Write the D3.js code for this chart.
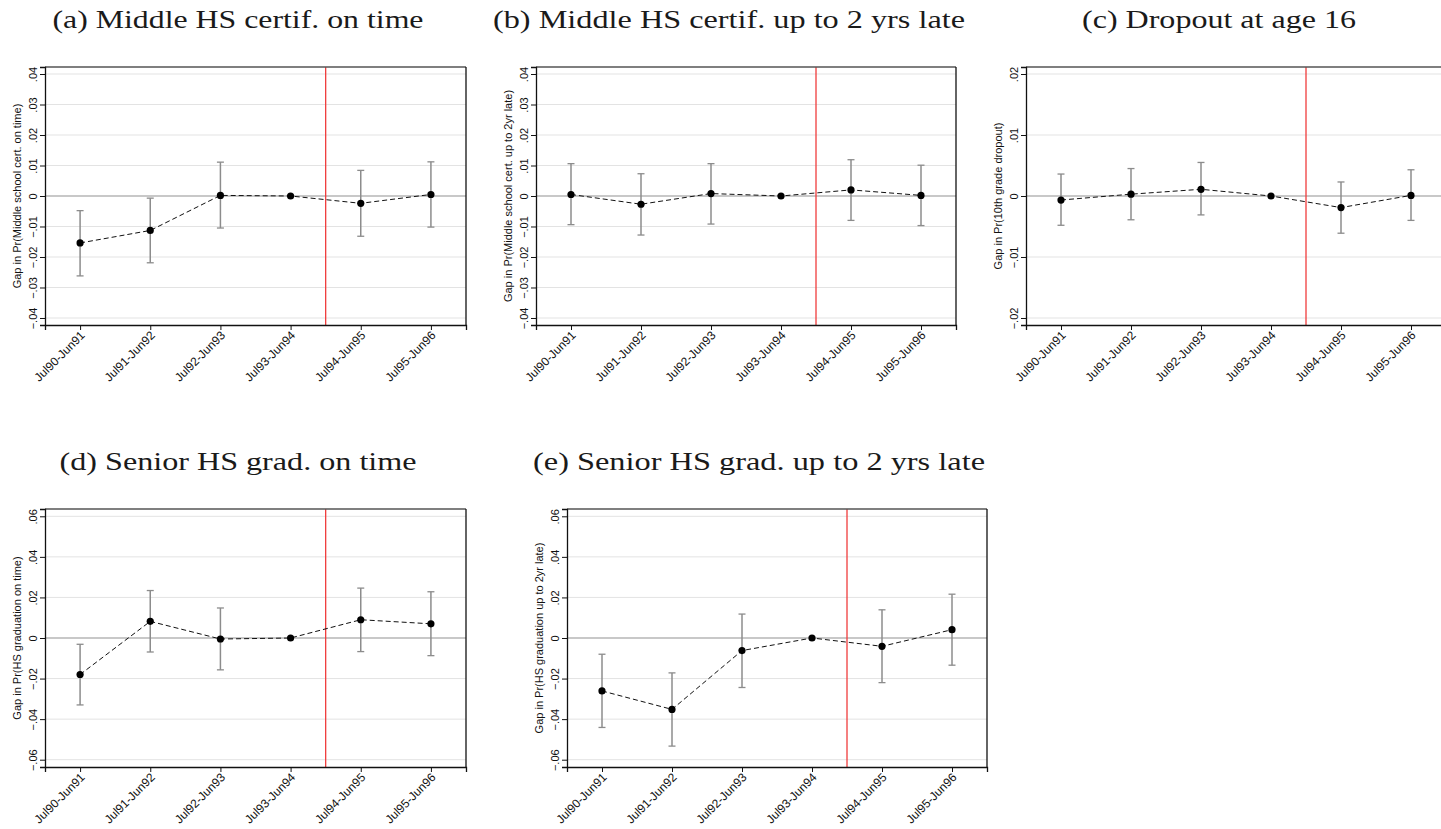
<!DOCTYPE html>
<html>
<head>
<meta charset="utf-8">
<script src="https://cdn.jsdelivr.net/npm/d3@7"></script>
<style>
  body { margin: 0; background: #fff; overflow: hidden; }
  svg { display: block; }
  .title { font-family: "Liberation Serif", "DejaVu Serif", serif; font-size: 26px; fill: #1a1a1a; }
  .tick text, .ylab { font-family: "Liberation Sans", Arial, sans-serif; font-size: 11px; fill: #111; }
  .xax .tick text { font-size: 12px; }
</style>
</head>
<body>
<div id="chart"></div>
<script>
//-------------------SET-UP, DATA, & VARIABLES--------------------------
var width = 1441;
var height = 829;

// Cohort periods on the x axis
var periods = ["Jul90-Jun91", "Jul91-Jun92", "Jul92-Jun93", "Jul93-Jun94", "Jul94-Jun95", "Jul95-Jun96"];

// (a) Middle HS certif. on time
var coefA = [-0.0154, -0.0113, 0.0002, 0, -0.0024, 0.0005];
var loA   = [-0.0262, -0.0219, -0.0105, 0, -0.0132, -0.0102];
var hiA   = [-0.0048, -0.0007, 0.0111, 0, 0.0084, 0.0112];

// (b) Middle HS certif. up to 2 yrs late
var coefB = [0.0005, -0.0027, 0.0008, 0, 0.0020, 0.0002];
var loB   = [-0.0094, -0.0128, -0.0092, 0, -0.0080, -0.0097];
var hiB   = [0.0106, 0.0073, 0.0106, 0, 0.0119, 0.0101];

// (c) Dropout at age 16
var coefC = [-0.00066, 0.0003, 0.0011, 0, -0.0019, 0.0001];
var loC   = [-0.0048, -0.0039, -0.0031, 0, -0.0061, -0.0040];
var hiC   = [0.0036, 0.0045, 0.0055, 0, 0.0023, 0.0043];

// (d) Senior HS grad. on time
var coefD = [-0.0180, 0.0082, -0.0005, 0, 0.0090, 0.0070];
var loD   = [-0.0330, -0.0069, -0.0157, 0, -0.0067, -0.0087];
var hiD   = [-0.0031, 0.0234, 0.0148, 0, 0.0246, 0.0228];

// (e) Senior HS grad. up to 2 yrs late
var coefE = [-0.0261, -0.0352, -0.0062, 0, -0.0041, 0.0041];
var loE   = [-0.0441, -0.0533, -0.0244, 0, -0.0220, -0.0134];
var hiE   = [-0.0080, -0.0172, 0.0118, 0, 0.0139, 0.0216];

// Tick values
var ticksSmall = [-0.04, -0.03, -0.02, -0.01, 0, 0.01, 0.02, 0.03, 0.04];
var ticksDrop  = [-0.02, -0.01, 0, 0.01, 0.02];
var ticksGrad  = [-0.06, -0.04, -0.02, 0, 0.02, 0.04, 0.06];

var titles = ["(a) Middle HS certif. on time", "(b) Middle HS certif. up to 2 yrs late",
              "(c) Dropout at age 16", "(d) Senior HS grad. on time", "(e) Senior HS grad. up to 2 yrs late"];
var yLabels = ["Gap in Pr(Middle school cert. on time)", "Gap in Pr(Middle school cert. up to 2yr late)",
               "Gap in Pr(10th grade dropout)", "Gap in Pr(HS graduation on time)",
               "Gap in Pr(HS graduation up to 2yr late)"];

// Panel layout (plot box in pixels, title centre + width) + what goes in each
var panels = [
    {coef: coefA, lo: loA, hi: hiA, ticks: ticksSmall, ymax: 0.0423,  x0: 45,   y0: 67,  x1: 466,  y1: 325, tx: 238, ty: 28,  tw: 371},
    {coef: coefB, lo: loB, hi: hiB, ticks: ticksSmall, ymax: 0.0423,  x0: 536,  y0: 67,  x1: 956,  y1: 325, tx: 729, ty: 28,  tw: 472},
    {coef: coefC, lo: loC, hi: hiC, ticks: ticksDrop,  ymax: 0.02115, x0: 1026, y0: 67,  x1: 1446, y1: 325, tx: 1219, ty: 28, tw: 274},
    {coef: coefD, lo: loD, hi: hiD, ticks: ticksGrad,  ymax: 0.0636,  x0: 45,   y0: 509, x1: 466,  y1: 767, tx: 238, ty: 470, tw: 357},
    {coef: coefE, lo: loE, hi: hiE, ticks: ticksGrad,  ymax: 0.0636,  x0: 567,  y0: 509, x1: 987,  y1: 767, tx: 759, ty: 470, tw: 452}
];

var svg = d3.select("#chart")
    .append("svg")
    .attr("width", width)
    .attr("height", height);

function fmt(v) {
    // Stata style: .04, -.02, 0
    if (Math.abs(v) < 1e-9) return "0";
    var s = d3.format(".2f")(v);
    return s.replace("0.", ".");
}

//--------------------DRAW EACH PANEL---------------------------
panels.forEach(function(p, k) {
    var g = svg.append("g");

    var xScale = d3.scaleLinear().domain([-0.5, 5.5]).range([p.x0, p.x1]);
    var yScale = d3.scaleLinear().domain([-p.ymax, p.ymax]).range([p.y1, p.y0]);

    // title (stretched a bit, the original is in a wide LaTeX serif)
    g.append("text")
        .attr("class", "title")
        .attr("x", p.tx - p.tw / 2)
        .attr("y", p.ty)
        .attr("textLength", p.tw)
        .attr("lengthAdjust", "spacingAndGlyphs")
        .text(titles[k]);

    // gridlines
    g.selectAll(".grid")
        .data(p.ticks.filter(function(t) { return t !== 0; }))
        .enter().append("line")
        .attr("x1", p.x0).attr("x2", p.x1)
        .attr("y1", function(d) { return yScale(d); })
        .attr("y2", function(d) { return yScale(d); })
        .attr("stroke", "#e3e3e3")
        .attr("stroke-width", 1);

    // zero line
    g.append("line")
        .attr("x1", p.x0).attr("x2", p.x1)
        .attr("y1", yScale(0)).attr("y2", yScale(0))
        .attr("stroke", "#c8c8c8")
        .attr("stroke-width", 2);

    // red reform line between Jul93 and Jul94
    g.append("line")
        .attr("x1", xScale(3.5)).attr("x2", xScale(3.5))
        .attr("y1", p.y0).attr("y2", p.y1)
        .attr("stroke", "#f03c3c")
        .attr("stroke-width", 1.3);

    // error bars
    var idx = d3.range(periods.length).filter(function(i) { return p.lo[i] !== p.hi[i]; });
    var bars = g.selectAll(".bar").data(idx).enter().append("g");
    bars.append("line")
        .attr("x1", function(i) { return xScale(i); })
        .attr("x2", function(i) { return xScale(i); })
        .attr("y1", function(i) { return yScale(p.lo[i]); })
        .attr("y2", function(i) { return yScale(p.hi[i]); })
        .attr("stroke", "#8c8c8c").attr("stroke-width", 1.5);
    ["lo", "hi"].forEach(function(key) {
        bars.append("line")
            .attr("x1", function(i) { return xScale(i) - 3.5; })
            .attr("x2", function(i) { return xScale(i) + 3.5; })
            .attr("y1", function(i) { return yScale(p[key][i]); })
            .attr("y2", function(i) { return yScale(p[key][i]); })
            .attr("stroke", "#8c8c8c").attr("stroke-width", 1.3);
    });

    // dashed connecting line
    var line = d3.line()
        .x(function(d, i) { return xScale(i); })
        .y(function(d) { return yScale(d); });
    g.append("path")
        .datum(p.coef)
        .attr("d", line)
        .attr("fill", "none")
        .attr("stroke", "#111")
        .attr("stroke-width", 1)
        .attr("stroke-dasharray", "5,3");

    // points
    g.selectAll(".pt")
        .data(p.coef)
        .enter().append("circle")
        .attr("cx", function(d, i) { return xScale(i); })
        .attr("cy", function(d) { return yScale(d); })
        .attr("r", 3.6)
        .attr("fill", "#000");

    // plot box: top grey-ish, right black
    g.append("line").attr("x1", p.x0).attr("x2", p.x1).attr("y1", p.y0).attr("y2", p.y0)
        .attr("stroke", "#555").attr("stroke-width", 1.5);
    g.append("line").attr("x1", p.x1).attr("x2", p.x1).attr("y1", p.y0).attr("y2", p.y1)
        .attr("stroke", "#111").attr("stroke-width", 1.3);

    // y axis
    var yAxis = d3.axisLeft(yScale).tickValues(p.ticks).tickSize(5).tickPadding(3).tickFormat(fmt);
    var ya = g.append("g")
        .attr("transform", "translate(" + p.x0 + ",0)")
        .call(yAxis);
    ya.select(".domain").attr("stroke", "#111").attr("stroke-width", 1.3);
    ya.selectAll(".tick line").attr("stroke", "#111");
    ya.selectAll(".tick text")
        .attr("x", null).attr("dy", null)
        .attr("text-anchor", "middle")
        .attr("transform", "translate(-8,0) rotate(-90)");

    // y label
    g.append("text")
        .attr("class", "ylab")
        .attr("text-anchor", "middle")
        .attr("transform", "translate(" + (p.x0 - 24) + "," + ((p.y0 + p.y1) / 2) + ") rotate(-90)")
        .text(yLabels[k]);

    // x axis
    var xAxis = d3.axisBottom(xScale).tickValues(d3.range(periods.length)).tickSize(5)
        .tickFormat(function(i) { return periods[i]; });
    var xa = g.append("g")
        .attr("class", "xax")
        .attr("transform", "translate(0," + p.y1 + ")")
        .call(xAxis);
    xa.select(".domain").attr("stroke", "#111").attr("stroke-width", 1.3);
    xa.selectAll(".tick line").attr("stroke", "#111");
    xa.selectAll(".tick text")
        .attr("y", null).attr("dy", null)
        .attr("text-anchor", "end")
        .attr("transform", "translate(5,11) rotate(-45)");
});
</script>
</body>
</html>
